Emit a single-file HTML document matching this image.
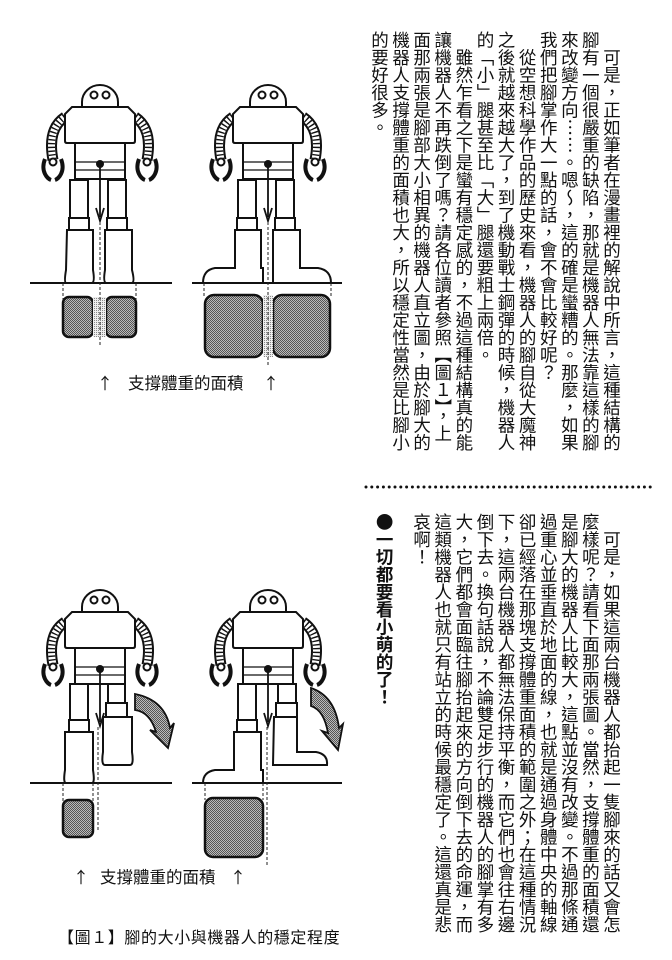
<!DOCTYPE html>
<html><head><meta charset="utf-8">
<style>
html,body{margin:0;padding:0;background:#fff;}
body{width:672px;height:960px;position:relative;overflow:hidden;}
.col{position:absolute;writing-mode:vertical-rl;font-family:"Noto Sans CJK TC","Noto Serif CJK SC",sans-serif;font-size:17.5px;line-height:21.1px;color:#111;white-space:nowrap;}
.cap{position:absolute;font-family:"Noto Sans CJK TC",sans-serif;font-size:16px;color:#111;white-space:nowrap;line-height:20px;}
</style></head><body>
<svg width="672" height="960" style="position:absolute;left:0;top:0" xmlns="http://www.w3.org/2000/svg">
<defs>
<pattern id="chk" width="2" height="2" patternUnits="userSpaceOnUse"><rect width="2" height="2" fill="#bbb"/><rect width="1" height="1" fill="#555"/><rect x="1" y="1" width="1" height="1" fill="#555"/></pattern>
<pattern id="chk2" width="2" height="2" patternUnits="userSpaceOnUse"><rect width="2" height="2" fill="#eee"/><rect width="1" height="1" fill="#888"/></pattern>
<g id="upper" fill="#fff" stroke="#111" stroke-width="2">
  <path d="M-35,24 Q-53,36 -47,67" stroke-width="11" fill="none"/>
  <path d="M-35,24 Q-53,36 -47,67" stroke="#fff" stroke-width="7" fill="none"/>
  <path d="M-35,24 Q-53,36 -47,67" stroke="#111" stroke-width="7" stroke-dasharray="1.4 2.4" fill="none"/>
  <path d="M35,24 Q53,36 47,67" stroke-width="11" fill="none"/>
  <path d="M35,24 Q53,36 47,67" stroke="#fff" stroke-width="7" fill="none"/>
  <path d="M35,24 Q53,36 47,67" stroke="#111" stroke-width="7" stroke-dasharray="1.4 2.4" fill="none"/>
  <path d="M-55,66 C-60,79 -52,86 -49,87 M-39,66 C-34,79 -42,86 -45,87" fill="none" stroke-width="4"/>
  <circle cx="-47" cy="69" r="3.5"/>
  <path d="M55,66 C60,79 52,86 49,87 M39,66 C34,79 42,86 45,87" fill="none" stroke-width="4"/>
  <circle cx="47" cy="69" r="3.5"/>
  <path d="M-18,14 L-18,9 A18,17 0 0 1 18,9 L18,14 Z"/>
  <circle cx="-6" cy="2" r="3.5"/><circle cx="6" cy="2" r="3.5"/>
  <rect x="-25" y="48" width="50" height="38"/>
  <line x1="-25" y1="69" x2="25" y2="69" stroke-width="1.2"/>
  <line x1="-25" y1="77" x2="25" y2="77" stroke-width="1.2"/>
  <path d="M-28,14 L28,14 L35,21 L35,48 Q35,50 33,50 L-33,50 Q-35,50 -35,48 L-35,21 Z"/>
  <circle cx="0" cy="71" r="3" fill="#111"/>
  <line x1="0" y1="71" x2="0" y2="124" stroke-width="1.8"/>
  <path d="M-4,115 L0,128 L4,115" fill="none" stroke-width="1.8"/>
</g>
</defs>
<g stroke="#111" stroke-width="2" fill="#fff">
<use href="#upper" x="100" y="93"/>
<rect x="70" y="180" width="18" height="38"/><rect x="108" y="180" width="18" height="38"/>
<rect x="69" y="218" width="20" height="12"/><rect x="107" y="218" width="20" height="12"/>
<path d="M67,230 L93,230 L93,270 Q95,282 92,283 L66,283 Q64,282 66,270 Z"/>
<path d="M105,230 L132,230 L132,270 Q135,282 132,283 L106,283 Q103,282 105,270 Z"/>
<line x1="30" y1="283" x2="172" y2="283"/>
<rect x="63" y="297" width="30" height="40" rx="6" fill="url(#chk)" stroke-width="2.5"/>
<rect x="106" y="297" width="30" height="40" rx="6" fill="url(#chk)" stroke-width="2.5"/>
<rect x="93" y="297" width="13" height="40" fill="url(#chk2)" stroke="none"/>
<use href="#upper" x="268" y="93"/>
<rect x="238" y="180" width="18" height="38"/><rect x="276" y="180" width="18" height="38"/>
<rect x="237" y="218" width="20" height="12"/><rect x="275" y="218" width="20" height="12"/>
<path d="M235,230 L261,230 L261,268 L263,268 L263,283 L203,283 Q203,270 215,268 L235,268 Z"/>
<path d="M273,230 L300,230 L300,268 L318,268 Q331,270 331,283 L273,283 Z"/>
<line x1="192" y1="283" x2="342" y2="283"/>
<rect x="205" y="295" width="58" height="62" rx="9" fill="url(#chk)" stroke-width="2.5"/>
<rect x="273" y="295" width="57" height="62" rx="9" fill="url(#chk)" stroke-width="2.5"/>
<rect x="263" y="295" width="10" height="62" fill="url(#chk2)" stroke="none"/>
<use href="#upper" x="100" y="598"/>
<rect x="70" y="684" width="18" height="36"/><rect x="69" y="720" width="20" height="12"/>
<path d="M65,732 L93,732 L93,770 Q95,783 92,783 L66,783 Q63,783 65,770 Z"/>
<rect x="108" y="684" width="17" height="19"/><rect x="106" y="703" width="21" height="14"/>
<path d="M103,717 L132,717 L132,752 Q134,765 130,765 L105,765 Q101,765 103,752 Z"/>
<path d="M135,694 Q165,700 170,728 L174,723 L168,748 L150,730 L156,732 Q150,712 135,710 Z" fill="url(#chk)" stroke-width="1.8"/>
<line x1="30" y1="783" x2="172" y2="783"/>
<rect x="63" y="800" width="30" height="37" rx="6" fill="url(#chk)" stroke-width="2.5"/>
<use href="#upper" x="268" y="598"/>
<rect x="238" y="684" width="18" height="36"/><rect x="237" y="720" width="20" height="12"/>
<path d="M234,732 L261,732 L261,770 L263,770 L263,783 L203,783 Q203,772 215,770 L234,770 Z"/>
<rect x="278" y="684" width="18" height="19"/><rect x="276" y="703" width="21" height="14"/>
<path d="M274,717 L297,717 L297,752 L316,752 Q328,754 327,765 L273,765 Z"/>
<path d="M311,688 Q335,696 339,728 L343,724 L338,750 L322,731 L328,733 Q324,710 311,706 Z" fill="url(#chk)" stroke-width="1.8"/>
<line x1="192" y1="783" x2="342" y2="783"/>
<rect x="205" y="798" width="58" height="59" rx="8" fill="url(#chk)" stroke-width="2.5"/>
</g>
<g stroke="#222" stroke-width="1" stroke-dasharray="3 2" fill="none">
<line x1="63" y1="283" x2="63" y2="300"/><line x1="100" y1="222" x2="100" y2="345"/><line x1="136" y1="283" x2="136" y2="300"/>
<line x1="204" y1="283" x2="204" y2="298"/><line x1="268" y1="222" x2="268" y2="365"/><line x1="331" y1="283" x2="331" y2="298"/>
<line x1="63" y1="783" x2="63" y2="802"/><line x1="93" y1="783" x2="93" y2="802"/><line x1="98" y1="727" x2="98" y2="830"/>
<line x1="205" y1="783" x2="205" y2="800"/><line x1="263" y1="783" x2="263" y2="800"/><line x1="267" y1="727" x2="267" y2="866"/>
</g>
<line x1="366" y1="487" x2="652" y2="487" stroke="#111" stroke-width="3" stroke-linecap="round" stroke-dasharray="0 5.8"/>
</svg>
<div class="cap" style="left:97px;top:372px;">↑</div>
<div class="cap" style="left:128px;top:372px;font-size:16.5px;">支撐體重的面積</div>
<div class="cap" style="left:263px;top:372px;">↑</div>
<div class="cap" style="left:73px;top:866px;">↑</div>
<div class="cap" style="left:100px;top:866px;font-size:16.5px;">支撐體重的面積</div>
<div class="cap" style="left:230px;top:866px;">↑</div>
<div class="cap" style="left:58px;top:926px;font-size:16px;letter-spacing:0.6px;">【圖１】腳的大小與機器人的穩定程度</div>

<div class="col" style="right:49.5px;top:31px;">　可是，正如筆者在漫畫裡的解說中所言，這種結構的<br>腳有一個很嚴重的缺陷，那就是機器人無法靠這樣的腳<br>來改變方向……。嗯～，這的確是蠻糟的。那麼，如果<br>我們把腳掌作大一點的話，會不會比較好呢？<br>　從空想科學作品的歷史來看，機器人的腳自從大魔神<br>之後就越來越大了，到了機動戰士鋼彈的時候，機器人<br>的「小」腿甚至比「大」腿還要粗上兩倍。<br>　雖然乍看之下是蠻有穩定感的，不過這種結構真的能<br>讓機器人不再跌倒了嗎？請各位讀者參照【圖１】，上<br>面那兩張是腳部大小相異的機器人直立圖，由於腳大的<br>機器人支撐體重的面積也大，所以穩定性當然是比腳小<br>的要好很多。</div>

<div class="col" style="right:49.5px;top:513px;">　可是，如果這兩台機器人都抬起一隻腳來的話又會怎<br>麼樣呢？請看下面那兩張圖。當然，支撐體重的面積還<br>是腳大的機器人比較大，這點並沒有改變。不過那條通<br>過重心並垂直於地面的線，也就是通過身體中央的軸線<br>卻已經落在那塊支撐體重面積的範圍之外；在這種情況<br>下，這兩台機器人都無法保持平衡，而它們也會往右邊<br>倒下去。換句話說，不論雙足步行的機器人的腳掌有多<br>大，它們都會面臨往腳抬起來的方向倒下去的命運，而<br>這類機器人也就只有站立的時候最穩定了。這還真是悲<br>哀啊！</div>

<div class="col" style="left:374px;top:513px;font-weight:bold;">●一切都要看小萌的了！</div>
</body></html>
